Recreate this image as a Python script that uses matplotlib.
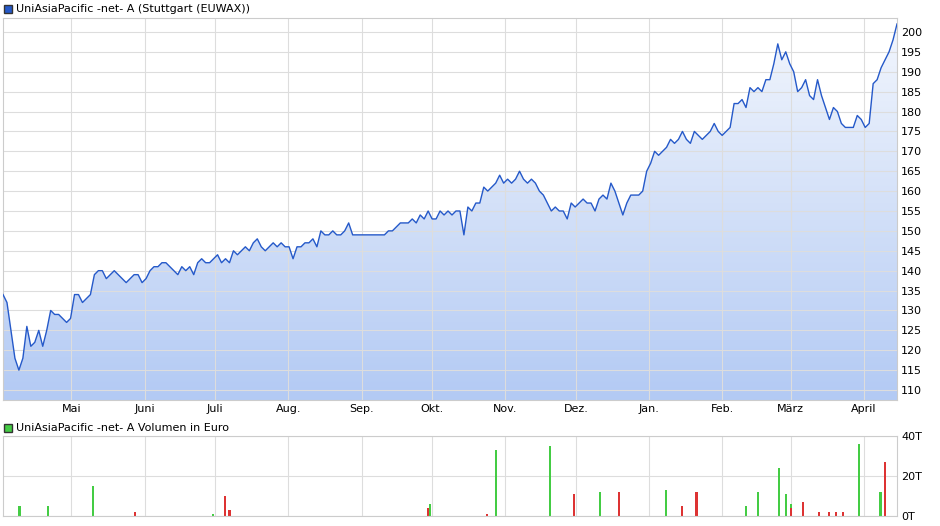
import numpy as np, pandas as pd, matplotlib
matplotlib.use("Agg")
import matplotlib.pyplot as plt
import matplotlib.dates as mdates
from matplotlib.patches import Polygon

start = pd.Timestamp("2023-04-02"); end = pd.Timestamp("2024-04-15")
prices = [134,132,125,118,115,118,126,121,122,125,121,125,130,129,129,128,127,128,134,134,132,133,134,139,140,140,138,139,140,139,138,137,138,139,139,137,138,140,141,141,142,142,141,140,139,141,140,141,139,142,143,142,142,143,144,142,143,142,145,144,145,146,145,147,148,146,145,146,147,146,147,146,146,143,146,146,147,147,148,146,150,149,149,150,149,149,150,152,149,149,149,149,149,149,149,149,149,150,150,151,152,152,152,153,152,154,153,155,153,153,155,154,155,154,155,155,149,156,155,157,157,161,160,161,162,164,162,163,162,163,165,163,162,163,162,160,159,157,155,156,155,155,153,157,156,157,158,157,157,155,158,159,158,162,160,157,154,157,159,159,159,160,165,167,170,169,170,171,173,172,173,175,173,172,175,174,173,174,175,177,175,174,175,176,182,182,183,181,186,185,186,185,188,188,192,197,193,195,192,190,185,186,188,184,183,188,184,181,178,181,180,177,176,176,176,179,178,176,177,187,188,191,193,195,198,202]
dates = pd.date_range(start, end, periods=len(prices))
month_ticks = ["2023-05-01","2023-06-01","2023-07-01","2023-08-01","2023-09-01","2023-10-01","2023-11-01","2023-12-01","2024-01-01","2024-02-01","2024-03-01","2024-04-01"]
month_labels = ["Mai","Juni","Juli","Aug.","Sep.","Okt.","Nov.","Dez.","Jan.","Feb.","März","April"]
vol_up_day = [7,19,38,89,181,209,232,253,281,315,320,329,332,334,363,372,380]
vol_up = [5,5,15,1,6,33,35,12,13,5,12,24,11,6,36,12,11]
vol_dn_day = [56,94,96,180,205,242,261,288,294,334,339,346,350,353,356,374]
vol_dn = [2,10,3,4,1,11,12,5,12,4,7,2,2,2,2,27]

fig = plt.figure(figsize=(9.4,5.26), dpi=100)
ax = fig.add_axes([3/940, 1-400/526, 894/940, 382/526])
x = mdates.date2num(dates)
ymin, ymax = 107.5, 203.5
grad = np.linspace(0,1,256).reshape(-1,1)
from matplotlib.colors import LinearSegmentedColormap
cm = LinearSegmentedColormap.from_list("g", ["#b3caf4", "#f2f6fd"])
im = ax.imshow(grad, cmap=cm, origin="lower", aspect="auto", extent=[x[0], x[-1], ymin, 202], zorder=1)
poly = Polygon(np.column_stack([np.r_[x, x[-1], x[0]], np.r_[prices, ymin, ymin]]), transform=ax.transData, facecolor="none", edgecolor="none")
ax.add_patch(poly); im.set_clip_path(poly)
ax.plot(dates, prices, color="#2559c9", lw=1, zorder=3)
ax.set_xlim(x[0], x[-1]); ax.set_ylim(ymin, ymax)
ax.set_yticks(range(110,201,5))
ax.yaxis.tick_right()
ax.set_xticks(pd.to_datetime(month_ticks)); ax.set_xticklabels(month_labels)
ax.grid(color="#dddddd", lw=0.8, zorder=0)
for s in ax.spines.values(): s.set_color("#cccccc")
ax.tick_params(labelsize=8, length=0, pad=3)
fig.patches.append(plt.Rectangle((4/940, 1-13/526), 8/940, 8/526, transform=fig.transFigure, facecolor="#2559c9", edgecolor="#333"))
fig.text(16/940, 1-9/526, "UniAsiaPacific -net- A (Stuttgart (EUWAX))", fontsize=8, va="center")

av = fig.add_axes([3/940, 1-516/526, 894/940, 80/526])
av.bar(start + pd.to_timedelta(vol_up_day, "D"), vol_up, width=0.9, color="#44cc44")
av.bar(start + pd.to_timedelta(vol_dn_day, "D"), vol_dn, width=0.9, color="#dd3333")
av.set_xlim(start, end); av.set_ylim(0, 40)
av.set_yticks([0,20,40]); av.set_yticklabels(["0T","20T","40T"])
av.yaxis.tick_right()
av.set_xticks(pd.to_datetime(month_ticks)); av.set_xticklabels([])
av.grid(color="#dddddd", lw=0.8); av.set_axisbelow(True)
for s in av.spines.values(): s.set_color("#cccccc")
av.tick_params(labelsize=8, length=0, pad=3)
fig.patches.append(plt.Rectangle((4/940, 1-432/526), 8/940, 8/526, transform=fig.transFigure, facecolor="#44cc44", edgecolor="#333"))
fig.text(16/940, 1-428/526, "UniAsiaPacific -net- A Volumen in Euro", fontsize=8, va="center")
fig.savefig("out.png", dpi=100)
